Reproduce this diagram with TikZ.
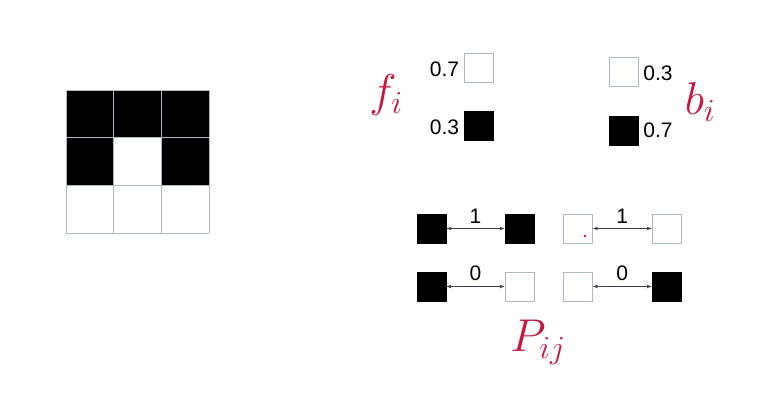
\RequirePackage{fix-cm}
\documentclass[tikz,border=0pt]{standalone}
\usepackage{fontspec}
\setmainfont{Liberation Sans}
\usetikzlibrary{arrows.meta}
\definecolor{edgegray}{HTML}{AEB8C6}
\definecolor{ink}{HTML}{C8173F}
\definecolor{arrowgray}{HTML}{3A3F48}
\tikzset{
  wsq/.style={draw=edgegray, line width=0.9pt, fill=white, minimum size=29pt, inner sep=0pt},
  bsq/.style={draw=black, line width=0.9pt, fill=black, minimum size=29pt, inner sep=0pt},
  num/.style={font=\fontsize{21}{21}\selectfont, inner sep=0pt},
  link/.style={{Stealth[length=5pt,width=3.5pt]}-{Stealth[length=5pt,width=3.5pt]}, draw=arrowgray, line width=0.8pt},
  hand/.style={text=ink, font=\fontsize{46}{46}\selectfont, inner sep=0pt}
}
\begin{document}
\begin{tikzpicture}[x=1pt,y=-1pt]
\useasboundingbox (0,0) rectangle (778,404);
% grid
\foreach \c/\r/\f in {0/0/black,1/0/black,2/0/black,0/1/black,1/1/white,2/1/black,0/2/white,1/2/white,2/2/white}{
  \fill[\f] (66+\c*47.67,90+\r*47.67) rectangle ++(47.67,47.67);
}
\foreach \i in {0,1,2,3}{
  \draw[edgegray, line width=1pt] (66+\i*47.67,90) -- (66+\i*47.67,233);
  \draw[edgegray, line width=1pt] (66,90+\i*47.67) -- (209,90+\i*47.67);
}
% f_i
\node[wsq] (fw) at (478.5,68) {};
\node[bsq] (fb) at (478.5,126) {};
\node[num] (fwt) at (444.5,69) {0.7};
\node[num] (fbt) at (444.5,127) {0.3};
\node[hand] (fi) at (386,95) {$f_i$};
% b_i
\node[wsq] (bw) at (623.5,71.5) {};
\node[bsq] (bb) at (623.5,130.5) {};
\node[num] (bwt) at (658,73) {0.3};
\node[num] (bbt) at (658,130) {0.7};
\node[hand] (bi) at (700,102) {$b_i$};
% pairs
\node[bsq] (a1) at (431.5,228.5) {};
\node[bsq] (a2) at (519.5,228.5) {};
\node[wsq] (b1) at (578,228.5) {};
\node[wsq] (b2) at (666.5,228.5) {};
\node[bsq] (c1) at (431.5,286.5) {};
\node[wsq] (c2) at (519.5,286.5) {};
\node[wsq] (d1) at (578,286.5) {};
\node[bsq] (d2) at (666.5,286.5) {};
\draw[link] (a1) -- node[num, above=5pt] {1} (a2);
\draw[link] (b1) -- node[num, above=5pt] {1} (b2);
\draw[link] (c1) -- node[num, above=5pt] {0} (c2);
\draw[link] (d1) -- node[num, above=5pt] {0} (d2);
\fill[ink] (585,236) circle (1.3);
\node[hand] (pij) at (538,342) {$P_{ij}$};
\end{tikzpicture}
\end{document}
